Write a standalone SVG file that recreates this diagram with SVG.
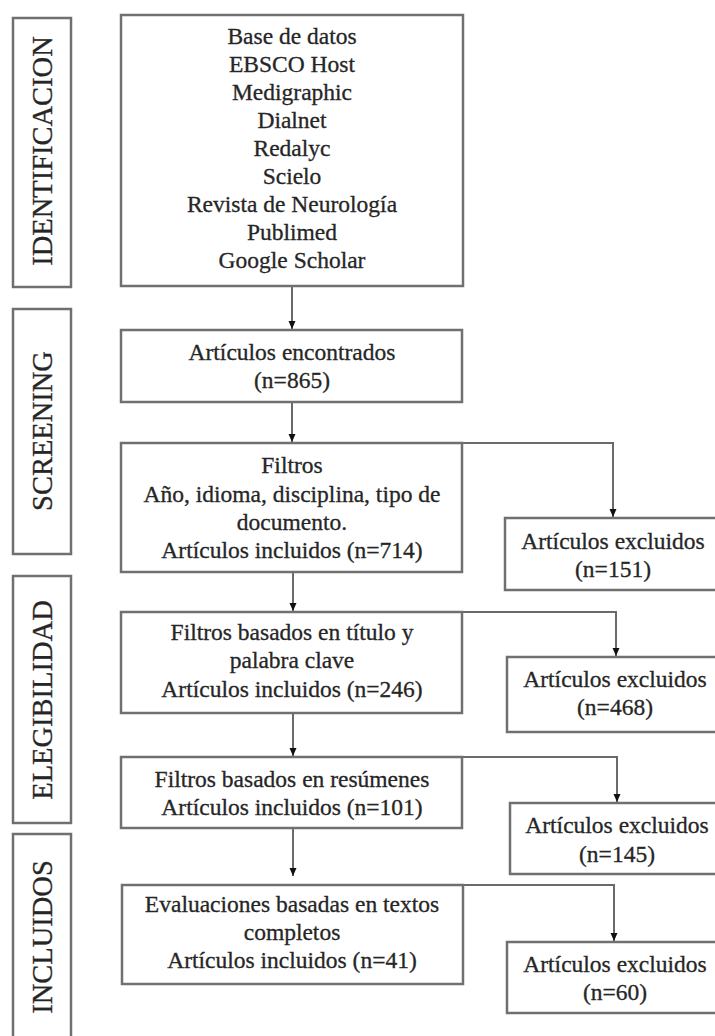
<svg xmlns="http://www.w3.org/2000/svg" width="715" height="1036" viewBox="0 0 715 1036">
<style>
.box{fill:#fff;stroke:#707070;stroke-width:2.5}
.t{font-family:"Liberation Serif","Times New Roman",serif;font-size:23.5px;fill:#262626;stroke:#262626;stroke-width:0.3;text-anchor:middle}
.lab{font-family:"Liberation Serif","Times New Roman",serif;font-size:28.5px;fill:#262626;stroke:#262626;stroke-width:0.3;text-anchor:middle}
.con{fill:none;stroke:#6a6a6a;stroke-width:2}
</style>
<defs>
<marker id="ah" viewBox="0 0 8 8" refX="8" refY="4" markerWidth="8" markerHeight="8" markerUnits="userSpaceOnUse" orient="auto">
<path d="M0,0.5 L8,4 L0,7.5 Z" fill="#111"/>
</marker>
</defs>
<rect width="715" height="1036" fill="#fff"/>
<g id="stages">
<g id="stage-identificacion"><rect class="box" x="13" y="18" width="58" height="269"/><text class="lab" transform="translate(52,151) rotate(-90)">IDENTIFICACION</text></g>
<g id="stage-screening"><rect class="box" x="13" y="309" width="58" height="245"/><text class="lab" transform="translate(52,431) rotate(-90)">SCREENING</text></g>
<g id="stage-elegibilidad"><rect class="box" x="13" y="576" width="58" height="247"/><text class="lab" transform="translate(52,700) rotate(-90)">ELEGIBILIDAD</text></g>
<g id="stage-incluidos"><rect class="box" x="13" y="834" width="58" height="210"/><text class="lab" transform="translate(52,937) rotate(-90)">INCLUIDOS</text></g>
</g>
<g id="connectors">
<line class="con" x1="292" y1="287" x2="292" y2="329" marker-end="url(#ah)"/>
<line class="con" x1="292" y1="403" x2="292" y2="442" marker-end="url(#ah)"/>
<polyline class="con" points="462,443 613,443 613,517" marker-end="url(#ah)"/>
<line class="con" x1="293" y1="573" x2="293" y2="611" marker-end="url(#ah)"/>
<polyline class="con" points="462,612 616,612 616,656" marker-end="url(#ah)"/>
<line class="con" x1="293" y1="714" x2="293" y2="756" marker-end="url(#ah)"/>
<polyline class="con" points="462,757 617,757 617,802" marker-end="url(#ah)"/>
<line class="con" x1="293" y1="829" x2="293" y2="876" marker-end="url(#ah)"/>
<polyline class="con" points="463,885 614,885 614,941" marker-end="url(#ah)"/>
</g>
<g id="n-bases">
<rect class="box" x="121" y="15" width="342" height="271"/>
<text class="t" x="292" y="44">Base de datos</text>
<text class="t" x="292" y="72">EBSCO Host</text>
<text class="t" x="292" y="100">Medigraphic</text>
<text class="t" x="292" y="128">Dialnet</text>
<text class="t" x="292" y="156">Redalyc</text>
<text class="t" x="292" y="184">Scielo</text>
<text class="t" x="292" y="212">Revista de Neurología</text>
<text class="t" x="292" y="240">Publimed</text>
<text class="t" x="292" y="268">Google Scholar</text>
</g>
<g id="n-encontrados">
<rect class="box" x="121" y="330" width="341" height="72"/>
<text class="t" x="292" y="360">Artículos encontrados</text>
<text class="t" x="292" y="388">(n=865)</text>
</g>
<g id="n-filtros">
<rect class="box" x="121" y="443" width="341" height="129"/>
<text class="t" x="292" y="473">Filtros</text>
<text class="t" x="292" y="502">Año, idioma, disciplina, tipo de</text>
<text class="t" x="292" y="530">documento.</text>
<text class="t" x="292" y="558">Artículos incluidos (n=714)</text>
</g>
<g id="n-excl151">
<rect class="box" x="505" y="518" width="220" height="72"/>
<text class="t" x="613" y="549">Artículos excluidos</text>
<text class="t" x="613" y="577">(n=151)</text>
</g>
<g id="n-titulo">
<rect class="box" x="121" y="612" width="341" height="101"/>
<text class="t" x="292" y="640">Filtros basados en título y</text>
<text class="t" x="292" y="668">palabra clave</text>
<text class="t" x="292" y="697">Artículos incluidos (n=246)</text>
</g>
<g id="n-excl468">
<rect class="box" x="507" y="657" width="220" height="75"/>
<text class="t" x="615" y="687">Artículos excluidos</text>
<text class="t" x="615" y="715">(n=468)</text>
</g>
<g id="n-resumenes">
<rect class="box" x="121" y="757" width="341" height="71"/>
<text class="t" x="292" y="787">Filtros basados en resúmenes</text>
<text class="t" x="292" y="815">Artículos incluidos (n=101)</text>
</g>
<g id="n-excl145">
<rect class="box" x="510" y="803" width="220" height="71"/>
<text class="t" x="617" y="833">Artículos excluidos</text>
<text class="t" x="617" y="862">(n=145)</text>
</g>
<g id="n-evaluaciones">
<rect class="box" x="122" y="885" width="341" height="99"/>
<text class="t" x="292" y="912">Evaluaciones basadas en textos</text>
<text class="t" x="292" y="940">completos</text>
<text class="t" x="292" y="968">Artículos incluidos (n=41)</text>
</g>
<g id="n-excl60">
<rect class="box" x="507" y="942" width="220" height="71"/>
<text class="t" x="615" y="972">Artículos excluidos</text>
<text class="t" x="615" y="1000">(n=60)</text>
</g>
</svg>
